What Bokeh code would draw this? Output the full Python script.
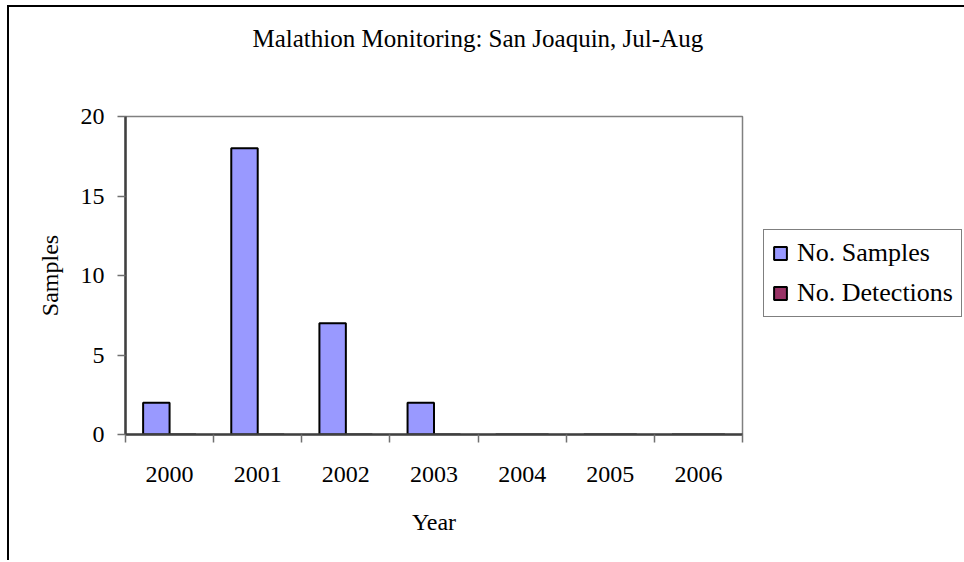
from bokeh.plotting import figure
from bokeh.models import Range1d, FixedTicker, Legend, LegendItem, ColumnDataSource, Title
from bokeh.embed import file_html
from bokeh.resources import INLINE

# ---- data ----
years = ["2000", "2001", "2002", "2003", "2004", "2005", "2006"]
no_samples = [2, 18, 7, 2, 0, 0, 0]
no_detections = [0, 0, 0, 0, 0, 0, 0]
y_ticks = [0, 5, 10, 15, 20]
title_text = "Malathion Monitoring: San Joaquin, Jul-Aug"

FONT = "Liberation Serif"

centers = [i + 0.5 for i in range(len(years))]
bar_w = 0.3

src = ColumnDataSource(dict(
    xs=[c - bar_w / 2 for c in centers],
    xd=[c + bar_w / 2 for c in centers],
    samples=no_samples,
    detections=no_detections,
))

p = figure(
    frame_width=617, frame_height=318,
    x_range=Range1d(0, len(years)), y_range=Range1d(0, 20),
    output_backend="svg", toolbar_location=None,
    min_border_left=116, min_border_right=221,
    min_border_top=109, min_border_bottom=126,
    title=None,
)
p.styles = {"border-left": "2px solid #000000", "border-top": "2px solid #000000",
            "margin-left": "7px", "margin-top": "5px"}

# spacer (nearest the frame), then the real title above it
p.add_layout(Title(text=" ", text_font_size="1px", standoff=52), "above")
p.add_layout(Title(text=title_text, align="left", offset=127, standoff=20,
                   text_font=FONT, text_font_size="25px", text_font_style="normal",
                   text_color="#000000"), "above")

p.outline_line_color = "#808080"
p.outline_line_width = 1.5
p.xgrid.visible = False
p.ygrid.visible = False
p.background_fill_color = "#FFFFFF"
p.border_fill_color = "#FFFFFF"

r1 = p.vbar(x="xs", width=bar_w, top="samples", bottom=0, source=src,
            fill_color="#9999FF", line_color="#000000", line_width=2)
r2 = p.vbar(x="xd", width=bar_w, top="detections", bottom=0, source=src,
            fill_color="#993366", line_color="#000000", line_width=2)

# x axis: labels at centers, ticks at category boundaries
xa = p.xaxis[0]
xa.ticker = FixedTicker(ticks=centers, minor_ticks=list(range(len(years) + 1)))
xa.major_label_overrides = {c: y for c, y in zip(centers, years)}
xa.major_tick_out = 0
xa.major_tick_in = 0
xa.minor_tick_out = 8
xa.minor_tick_in = 0
xa.axis_label = "Year"

ya = p.yaxis[0]
ya.ticker = FixedTicker(ticks=y_ticks, minor_ticks=[])
ya.major_tick_out = 8
ya.major_tick_in = 0
ya.minor_tick_out = 0
ya.minor_tick_in = 0
ya.axis_label = "Samples"

for ax in (xa, ya):
    ax.axis_line_color = "#404040"
    ax.axis_line_width = 2.5
    ax.major_tick_line_color = "#707070"
    ax.minor_tick_line_color = "#707070"
    ax.major_tick_line_width = 1.5
    ax.minor_tick_line_width = 1.5
    ax.major_label_text_font = FONT
    ax.major_label_text_font_size = "24px"
    ax.major_label_text_color = "#000000"
    ax.axis_label_text_font = FONT
    ax.axis_label_text_font_size = "24px"
    ax.axis_label_text_font_style = "normal"
    ax.axis_label_text_color = "#000000"

xa.major_label_standoff = 24
xa.axis_label_standoff = 24
ya.major_label_standoff = 13
ya.axis_label_standoff = 15

legend = Legend(
    items=[LegendItem(label="No. Samples", renderers=[r1]),
           LegendItem(label="No. Detections", renderers=[r2])],
    location=(21, 117),
    label_text_font=FONT, label_text_font_size="26px", label_text_color="#000000",
    glyph_width=16, glyph_height=16, label_standoff=9,
    padding=8, spacing=10, margin=0,
    border_line_color="#000000", border_line_width=1,
    background_fill_color="#FFFFFF", background_fill_alpha=1.0,
)
p.add_layout(legend, "right")

open("out.html", "w").write(file_html(p, INLINE))
